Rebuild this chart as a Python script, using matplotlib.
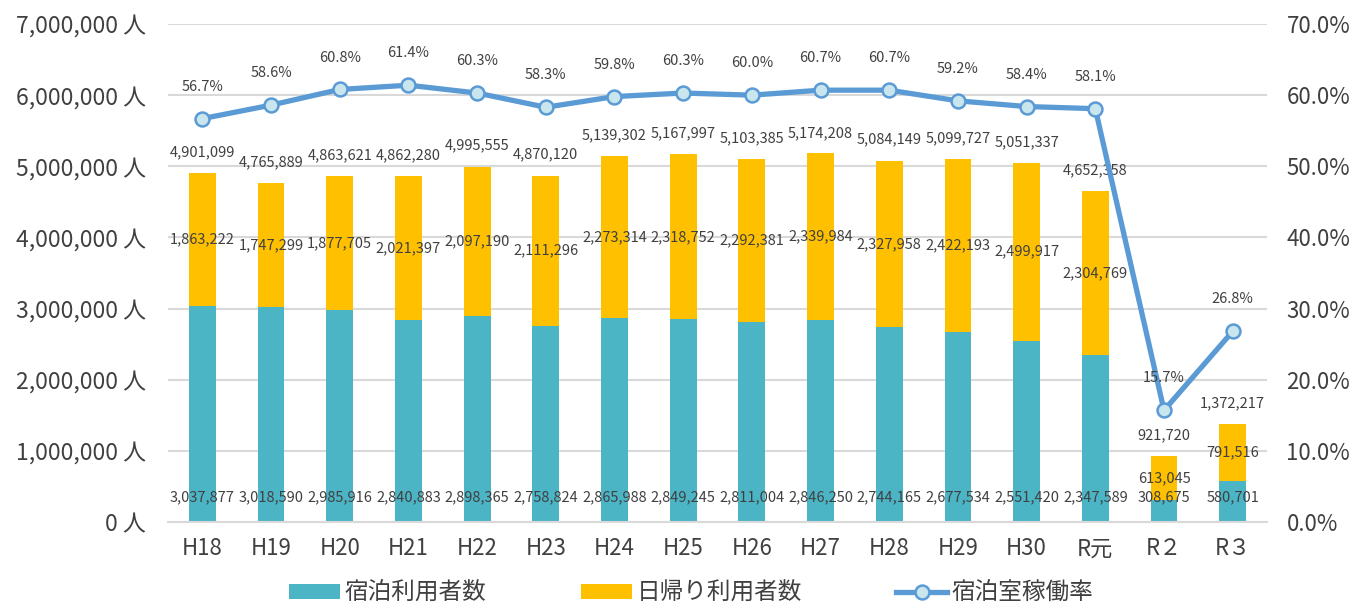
import numpy as np
import matplotlib
matplotlib.use("Agg")
import matplotlib.pyplot as plt
from matplotlib.ticker import FuncFormatter, MultipleLocator

plt.rcParams['font.family'] = ['Noto Sans CJK JP', 'DejaVu Sans']

# data
years = ['H18', 'H19', 'H20', 'H21', 'H22', 'H23', 'H24', 'H25', 'H26', 'H27',
         'H28', 'H29', 'H30', 'R元', 'R２', 'R３']
stay = [3037877, 3018590, 2985916, 2840883, 2898365, 2758824, 2865988, 2849245,
        2811004, 2846250, 2744165, 2677534, 2551420, 2347589, 308675, 580701]
day = [1863222, 1747299, 1877705, 2021397, 2097190, 2111296, 2273314, 2318752,
       2292381, 2339984, 2327958, 2422193, 2499917, 2304769, 613045, 791516]
total = [4901099, 4765889, 4863621, 4862280, 4995555, 4870120, 5139302, 5167997,
         5103385, 5174208, 5084149, 5099727, 5051337, 4652358, 921720, 1372217]
rate = [56.7, 58.6, 60.8, 61.4, 60.3, 58.3, 59.8, 60.3, 60.0, 60.7,
        60.7, 59.2, 58.4, 58.1, 15.7, 26.8]

teal = '#4BB4C5'
orange = '#FFC000'
blue = '#5B9BD5'
txt = '#404040'
grid = '#D9D9D9'

fig = plt.figure(figsize=(13.56, 6.08), dpi=100)
ax = fig.add_axes([0.1239, 0.1414, 0.8105, 0.8191])
x = np.arange(len(years))
w = 0.39

ax.bar(x, stay, w, color=teal, label='宿泊利用者数', zorder=2)
ax.bar(x, day, w, bottom=stay, color=orange, label='日帰り利用者数', zorder=2)

ax.set_xlim(-0.5, len(years) - 0.5)
ax.set_ylim(0, 7000000)
ax.yaxis.set_major_locator(MultipleLocator(1000000))
ax.yaxis.set_major_formatter(FuncFormatter(lambda v, p: f'{v:,.0f} 人'))
ax.grid(axis='y', color=grid, lw=1.5, zorder=0)
ax.set_axisbelow(True)
for s in ['top', 'right', 'left']:
    ax.spines[s].set_visible(False)
ax.spines['bottom'].set_color(grid)
ax.spines['bottom'].set_linewidth(1.5)
ax.set_xticks(x)
ax.set_xticklabels(years)
ax.tick_params(axis='y', length=0, pad=16, labelsize=16.5, labelcolor=txt)
ax.tick_params(axis='x', length=0, pad=11, labelsize=16, labelcolor=txt)

# bar labels
for i in range(len(years)):
    ax.annotate(f'{stay[i]:,}', (x[i], 0), xytext=(0, 18), textcoords='offset points',
                ha='center', va='center', fontsize=10.5, color=txt, zorder=5)
    ax.annotate(f'{day[i]:,}', (x[i], stay[i] + day[i] / 2), xytext=(0, 0),
                textcoords='offset points', ha='center', va='center',
                fontsize=10.5, color=txt, zorder=5)
    ax.annotate(f'{total[i]:,}', (x[i], total[i]), xytext=(0, 15),
                textcoords='offset points', ha='center', va='center',
                fontsize=10.5, color=txt, zorder=5)

ax2 = ax.twinx()
ax2.plot(x, rate, color=blue, lw=3.8, marker='o', ms=10, mfc='#C9E6EE',
         mec=blue, mew=1.8, label='宿泊室稼働率', zorder=3)
ax2.set_ylim(0, 70)
ax2.yaxis.set_major_locator(MultipleLocator(10))
ax2.yaxis.set_major_formatter(FuncFormatter(lambda v, p: f'{v:.1f}%'))
ax2.tick_params(axis='y', length=0, pad=14, labelsize=16, labelcolor=txt)
for s in ['top', 'right', 'left', 'bottom']:
    ax2.spines[s].set_visible(False)
for i in range(len(years)):
    ax2.annotate(f'{rate[i]:.1f}%', (x[i], rate[i]), xytext=(0, 23),
                 textcoords='offset points', ha='center', va='center',
                 fontsize=10.5, color=txt)

h1, l1 = ax.get_legend_handles_labels()
h2, l2 = ax2.get_legend_handles_labels()
fig.legend(h1 + h2, l1 + l2, loc='center', bbox_to_anchor=(0.51, 0.024),
           ncol=3, frameon=False, fontsize=17, handlelength=2.15,
           handleheight=0.55, handletextpad=0.2, columnspacing=4.0,
           labelcolor=txt, borderpad=0.2)

fig.savefig('out.png', dpi=100)
